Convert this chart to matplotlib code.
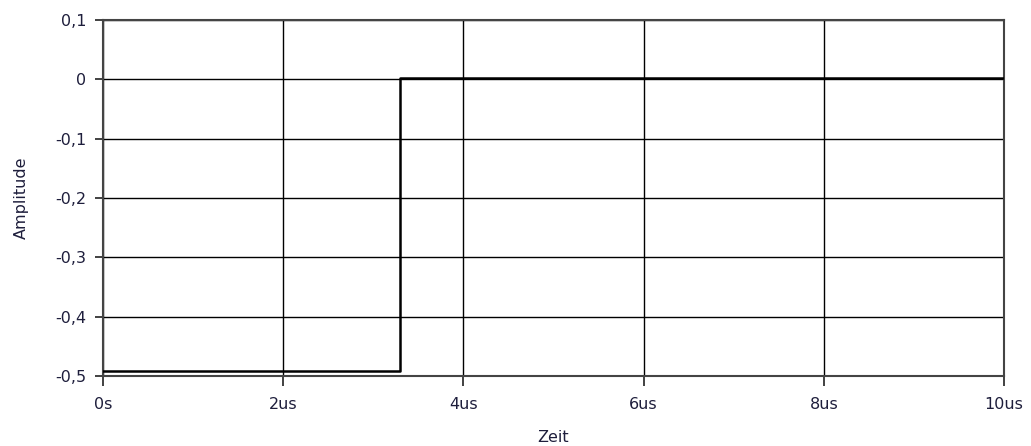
import matplotlib
matplotlib.use("Agg")
import matplotlib.pyplot as plt
from matplotlib.ticker import FuncFormatter

# Step response samples (time in microseconds, amplitude)
time_us = [0.0, 3.3, 3.3, 10.0]
amplitude = [-0.492, -0.492, 0.002, 0.002]

x_ticks = [0, 2, 4, 6, 8, 10]
x_tick_labels = ["0s", "2us", "4us", "6us", "8us", "10us"]
y_ticks = [-0.5, -0.4, -0.3, -0.2, -0.1, 0.0, 0.1]

plt.rcParams["font.family"] = ["DejaVu Sans"]
TEXT = "#1e1e3c"
FS = 11.5

fig = plt.figure(figsize=(10.31, 4.46), dpi=100)
L, R, T, B = 103, 1004, 20, 376
ax = fig.add_axes([L / 1031, 1 - B / 446, (R - L) / 1031, (B - T) / 446])

ax.plot(time_us, amplitude, color="black", linewidth=1.8, zorder=3)

ax.set_xlim(0, 10)
ax.set_ylim(-0.5, 0.1)
ax.set_xticks(x_ticks)
ax.set_xticklabels(x_tick_labels)
ax.set_yticks(y_ticks)


def fmt_y(v, pos):
    if abs(v) < 1e-9:
        return "0"
    return f"{v:.1f}".replace(".", ",")


ax.yaxis.set_major_formatter(FuncFormatter(fmt_y))

ax.grid(True, color="black", linewidth=1.0)
ax.set_axisbelow(True)
for s in ax.spines.values():
    s.set_color("#444444")
    s.set_linewidth(1.5)

ax.tick_params(axis="both", direction="out", color="#333333", width=1.3,
               labelsize=FS, labelcolor=TEXT)
ax.tick_params(axis="x", length=7, pad=8)
ax.tick_params(axis="y", length=6, pad=6)

ax.set_xlabel("Zeit", fontsize=FS, color=TEXT)
ax.set_ylabel("Amplitude", fontsize=FS, color=TEXT)
ax.xaxis.set_label_coords(0.5, (B - 437) / (B - T))
ax.xaxis.label.set_verticalalignment("center")
ax.yaxis.set_label_coords((21 - L) / (R - L), 0.5)
ax.yaxis.label.set_verticalalignment("center")

fig.savefig("out.png", dpi=100, facecolor="white")
